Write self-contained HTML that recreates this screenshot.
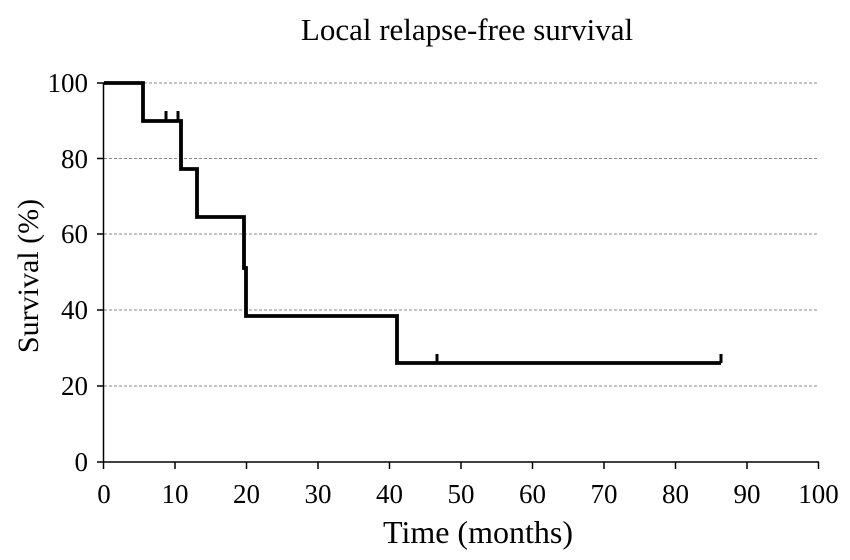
<!DOCTYPE html>
<html><head><style>body{margin:0;background:#fff}</style></head><body>
<svg width="850" height="555" xmlns="http://www.w3.org/2000/svg" font-family="Liberation Serif, serif">
<rect width="850" height="555" fill="#fff"/>
<text x="467" y="40" font-size="31" text-anchor="middle">Local relapse-free survival</text>
<g stroke="#888" stroke-width="1" stroke-dasharray="3,2">
<line x1="104" y1="83" x2="819" y2="83"/><line x1="104" y1="158.5" x2="819" y2="158.5"/>
<line x1="104" y1="234" x2="819" y2="234"/><line x1="104" y1="310" x2="819" y2="310"/>
<line x1="104" y1="386" x2="819" y2="386"/>
</g>
<g stroke="#000" stroke-width="1.5">
<line x1="103.5" y1="83" x2="103.5" y2="462"/><line x1="103.5" y1="462" x2="819" y2="462"/>
<line x1="97" y1="83" x2="104" y2="83"/><line x1="97" y1="158.5" x2="104" y2="158.5"/><line x1="97" y1="234" x2="104" y2="234"/><line x1="97" y1="310" x2="104" y2="310"/><line x1="97" y1="386" x2="104" y2="386"/><line x1="97" y1="462" x2="104" y2="462"/>
<line x1="103.5" y1="462" x2="103.5" y2="469"/><line x1="175" y1="462" x2="175" y2="469"/><line x1="246.5" y1="462" x2="246.5" y2="469"/><line x1="318" y1="462" x2="318" y2="469"/><line x1="389.5" y1="462" x2="389.5" y2="469"/><line x1="461" y1="462" x2="461" y2="469"/><line x1="532.5" y1="462" x2="532.5" y2="469"/><line x1="604" y1="462" x2="604" y2="469"/><line x1="675.5" y1="462" x2="675.5" y2="469"/><line x1="747" y1="462" x2="747" y2="469"/><line x1="818.5" y1="462" x2="818.5" y2="469"/>
</g>
<path d="M104 83 H143 V121 H181 V169 H197 V217 H244 V268 H246 V316 H397 V363 H721" fill="none" stroke="#000" stroke-width="3.8"/>
<g stroke="#000" stroke-width="3">
<line x1="166" y1="121" x2="166" y2="111"/><line x1="178" y1="121" x2="178" y2="111"/>
<line x1="437" y1="363" x2="437" y2="354"/><line x1="721" y1="363" x2="721" y2="354"/>
</g>
<g font-size="27" text-anchor="end">
<text x="88" y="92">100</text><text x="88" y="168">80</text><text x="88" y="243">60</text><text x="88" y="319">40</text><text x="88" y="395">20</text><text x="88" y="471">0</text>
</g>
<g font-size="27" text-anchor="middle">
<text x="104" y="503">0</text><text x="175" y="503">10</text><text x="246.5" y="503">20</text><text x="318" y="503">30</text><text x="389.5" y="503">40</text><text x="461" y="503">50</text><text x="532.5" y="503">60</text><text x="604" y="503">70</text><text x="675.5" y="503">80</text><text x="747" y="503">90</text><text x="818.5" y="503">100</text>
</g>
<text x="478" y="543" font-size="32" text-anchor="middle">Time (months)</text>
<text transform="translate(38,276) rotate(-90)" font-size="30" text-anchor="middle">Survival (%)</text>
</svg>
</body></html>
